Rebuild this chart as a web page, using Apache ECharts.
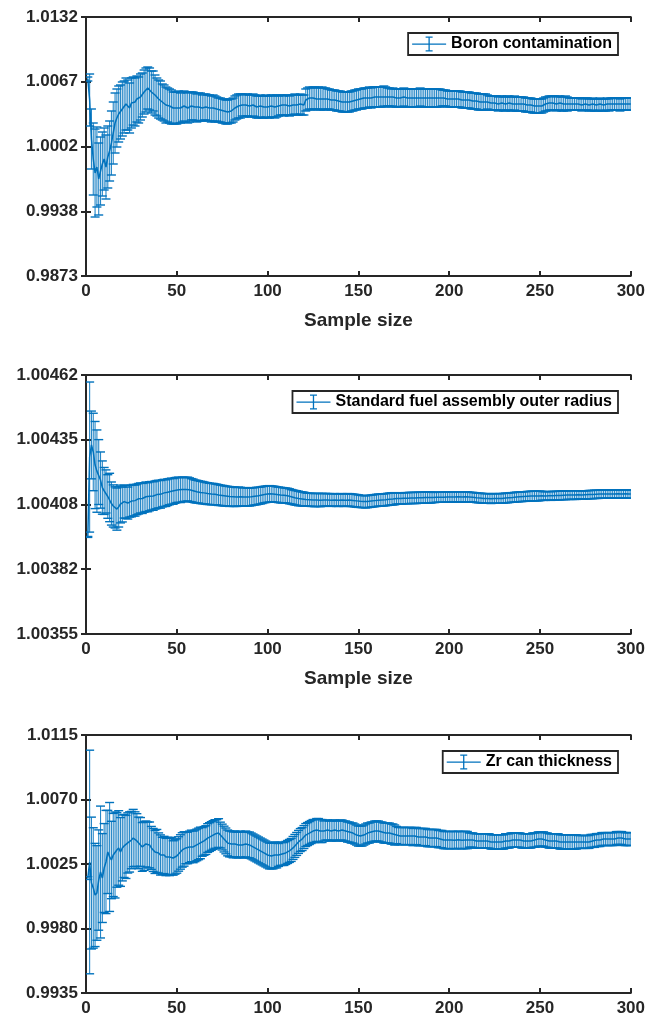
<!DOCTYPE html>
<html>
<head>
<meta charset="utf-8">
<script src="https://cdn.jsdelivr.net/npm/echarts@6/dist/echarts.min.js"></script>
<style>
html,body{margin:0;padding:0;background:#fff;}
#chart{width:648px;height:1017px;}
</style>
</head>
<body>
<div id="chart"></div>
<script>
// ---------------- DATA ----------------
const seriesNames = ['Boron contamination', 'Standard fuel assembly outer radius', 'Zr can thickness'];
const xTickLabels = ['0', '50', '100', '150', '200', '250', '300'];
const xLabel = 'Sample size';

const boronTicks = [0.9873, 0.993775, 1.00025, 1.006725, 1.0132];
const boronTickLabels = ['0.9873', '0.9938', '1.0002', '1.0067', '1.0132'];
const radiusTicks = [1.00355, 1.0038175, 1.004085, 1.0043525, 1.00462];
const radiusTickLabels = ['1.00355', '1.00382', '1.00408', '1.00435', '1.00462'];
const zrTicks = [0.9935, 0.998, 1.0025, 1.007, 1.0115];
const zrTickLabels = ['0.9935', '0.9980', '1.0025', '1.0070', '1.0115'];

const boronMean = [
1.0070,1.0049,1.0010,0.9990,0.9976,0.9982,0.9970,0.9978,0.9985,0.9990,
0.9982,0.9992,0.9998,1.0006,1.0016,1.0026,1.0031,1.0035,1.0037,1.0040,
1.0042,1.0045,1.0044,1.0041,1.0046,1.0048,1.0047,1.0050,1.0049,1.0052,
1.0054,1.0057,1.0059,1.0061,1.0060,1.0057,1.0058,1.0054,1.0052,1.0050,
1.0049,1.0047,1.0046,1.0044,1.0044,1.0043,1.0042,1.0041,1.0041,1.0041,
1.0042,1.0041,1.0042,1.0043,1.0042,1.0041,1.0042,1.0043,1.0043,1.0042,
1.0041,1.0042,1.0042,1.0041,1.0042,1.0042,1.0041,1.0041,1.0040,1.0041,
1.0040,1.0040,1.0039,1.0039,1.0038,1.0038,1.0037,1.0037,1.0038,1.0038,
1.0039,1.0041,1.0042,1.0043,1.0043,1.0044,1.0043,1.0044,1.0044,1.0043,
1.0043,1.0044,1.0043,1.0042,1.0042,1.0043,1.0042,1.0042,1.0043,1.0042,
1.0042,1.0043,1.0043,1.0042,1.0043,1.0043,1.0044,1.0044,1.0043,1.0044,
1.0044,1.0043,1.0044,1.0044,1.0045,1.0044,1.0044,1.0045,1.0044,1.0044,
1.0049,1.0050,1.0051,1.0050,1.0051,1.0051,1.0050,1.0051,1.0050,1.0051,
1.0050,1.0050,1.0050,1.0050,1.0049,1.0049,1.0049,1.0048,1.0048,1.0048,
1.0047,1.0047,1.0047,1.0047,1.0047,1.0048,1.0048,1.0049,1.0049,1.0050,
1.0050,1.0050,1.0051,1.0051,1.0051,1.0052,1.0051,1.0052,1.0052,1.0052,
1.0052,1.0052,1.0052,1.0053,1.0052,1.0052,1.0052,1.0051,1.0052,1.0051,
1.0051,1.0051,1.0051,1.0051,1.0052,1.0051,1.0051,1.0051,1.0051,1.0051,
1.0051,1.0051,1.0051,1.0052,1.0051,1.0051,1.0051,1.0051,1.0051,1.0051,
1.0051,1.0051,1.0051,1.0051,1.0051,1.0051,1.0051,1.0051,1.0050,1.0050,
1.0050,1.0050,1.0050,1.0050,1.0050,1.0050,1.0049,1.0049,1.0049,1.0049,
1.0049,1.0048,1.0048,1.0048,1.0048,1.0047,1.0047,1.0047,1.0047,1.0047,
1.0047,1.0046,1.0046,1.0046,1.0046,1.0046,1.0045,1.0046,1.0046,1.0045,
1.0045,1.0046,1.0046,1.0045,1.0045,1.0046,1.0045,1.0045,1.0045,1.0045,
1.0045,1.0044,1.0044,1.0044,1.0044,1.0043,1.0043,1.0043,1.0043,1.0043,
1.0043,1.0044,1.0045,1.0045,1.0046,1.0046,1.0046,1.0046,1.0045,1.0046,
1.0046,1.0045,1.0045,1.0046,1.0045,1.0045,1.0045,1.0045,1.0045,1.0045,
1.0045,1.0045,1.0044,1.0045,1.0045,1.0045,1.0044,1.0044,1.0045,1.0044,
1.0044,1.0044,1.0045,1.0044,1.0044,1.0044,1.0045,1.0044,1.0045,1.0045,
1.0045,1.0045,1.0045,1.0044,1.0045,1.0045,1.0045,1.0045,1.0045,1.0045
];
const boronErr = [
0.0002,0.0026,0.0030,0.0036,0.0044,0.0040,0.0036,0.0034,0.0032,0.0031,
0.0032,0.0031,0.0030,0.0032,0.0031,0.0030,0.0029,0.0028,0.0027,0.0027,
0.0026,0.0026,0.0025,0.0025,0.0025,0.0024,0.0024,0.0023,0.0023,0.0023,
0.0022,0.0022,0.0022,0.0021,0.0021,0.0021,0.0020,0.0020,0.0019,0.0019,
0.0019,0.0018,0.0018,0.0018,0.0017,0.0017,0.0017,0.0016,0.0016,0.0016,
0.0016,0.0015,0.0015,0.0015,0.0015,0.0015,0.0015,0.0014,0.0014,0.0014,
0.0014,0.0014,0.0014,0.0013,0.0013,0.0013,0.0013,0.0013,0.0013,0.0013,
0.0013,0.0012,0.0012,0.0012,0.0012,0.0012,0.0012,0.0012,0.0012,0.0012,
0.0012,0.0012,0.0012,0.0012,0.0012,0.0011,0.0011,0.0011,0.0011,0.0011,
0.0011,0.0011,0.0011,0.0011,0.0011,0.0011,0.0011,0.0011,0.0011,0.0011,
0.0011,0.0011,0.0011,0.0011,0.0011,0.0010,0.0010,0.0010,0.0010,0.0010,
0.0010,0.0010,0.0010,0.0010,0.0010,0.0010,0.0010,0.0010,0.0010,0.0010,
0.0011,0.0011,0.0011,0.0011,0.0011,0.0011,0.0011,0.0011,0.0011,0.0011,
0.0011,0.0011,0.0010,0.0010,0.0010,0.0010,0.0010,0.0010,0.0010,0.0010,
0.0010,0.0010,0.0010,0.0010,0.0010,0.0010,0.0010,0.0010,0.0010,0.0010,
0.0010,0.0010,0.0010,0.0010,0.0010,0.0010,0.0010,0.0010,0.0010,0.0010,
0.0010,0.0010,0.0010,0.0010,0.0010,0.0009,0.0009,0.0009,0.0009,0.0009,
0.0009,0.0009,0.0009,0.0009,0.0009,0.0009,0.0009,0.0009,0.0009,0.0009,
0.0009,0.0009,0.0009,0.0009,0.0009,0.0009,0.0009,0.0009,0.0009,0.0009,
0.0009,0.0009,0.0009,0.0009,0.0009,0.0008,0.0008,0.0008,0.0008,0.0008,
0.0008,0.0008,0.0008,0.0008,0.0008,0.0008,0.0008,0.0008,0.0008,0.0008,
0.0008,0.0008,0.0008,0.0008,0.0008,0.0008,0.0008,0.0008,0.0008,0.0008,
0.0007,0.0007,0.0007,0.0007,0.0007,0.0007,0.0007,0.0007,0.0007,0.0007,
0.0007,0.0007,0.0007,0.0007,0.0007,0.0007,0.0007,0.0007,0.0007,0.0007,
0.0007,0.0007,0.0007,0.0007,0.0007,0.0007,0.0007,0.0007,0.0007,0.0007,
0.0007,0.0007,0.0007,0.0007,0.0007,0.0007,0.0007,0.0007,0.0007,0.0007,
0.0007,0.0007,0.0007,0.0007,0.0007,0.0006,0.0006,0.0006,0.0006,0.0006,
0.0006,0.0006,0.0006,0.0006,0.0006,0.0006,0.0006,0.0006,0.0006,0.0006,
0.0006,0.0006,0.0006,0.0006,0.0006,0.0006,0.0006,0.0006,0.0006,0.0006,
0.0006,0.0006,0.0006,0.0006,0.0006,0.0006,0.0006,0.0006,0.0006,0.0006
];

const radiusMean = [
1.003951,1.004281,1.004331,1.004302,1.004248,1.004223,1.004219,1.004186,1.004155,1.004141,
1.004139,1.004118,1.004114,1.004089,1.004079,1.004073,1.004066,1.004075,1.004087,1.004085,
1.004097,1.004095,1.004091,1.004099,1.004099,1.004103,1.004101,1.004106,1.004109,1.004112,
1.004110,1.004114,1.004117,1.004115,1.004119,1.004121,1.004120,1.004124,1.004126,1.004128,
1.004127,1.004131,1.004133,1.004132,1.004136,1.004138,1.004140,1.004139,1.004143,1.004145,
1.004146,1.004144,1.004147,1.004148,1.004147,1.004149,1.004146,1.004144,1.004142,1.004139,
1.004138,1.004137,1.004135,1.004134,1.004133,1.004131,1.004130,1.004129,1.004128,1.004128,
1.004127,1.004126,1.004124,1.004123,1.004122,1.004121,1.004120,1.004119,1.004118,1.004118,
1.004117,1.004117,1.004116,1.004118,1.004117,1.004116,1.004116,1.004117,1.004116,1.004116,
1.004117,1.004118,1.004119,1.004120,1.004121,1.004122,1.004124,1.004126,1.004127,1.004128,
1.004129,1.004129,1.004128,1.004127,1.004126,1.004125,1.004124,1.004123,1.004123,1.004122,
1.004121,1.004119,1.004117,1.004115,1.004113,1.004112,1.004110,1.004109,1.004108,1.004107,
1.004106,1.004105,1.004105,1.004104,1.004104,1.004103,1.004104,1.004104,1.004103,1.004104,
1.004104,1.004105,1.004104,1.004104,1.004103,1.004104,1.004104,1.004103,1.004103,1.004104,
1.004104,1.004103,1.004103,1.004104,1.004104,1.004103,1.004102,1.004101,1.004100,1.004099,
1.004098,1.004097,1.004097,1.004096,1.004097,1.004098,1.004099,1.004100,1.004101,1.004102,
1.004103,1.004103,1.004104,1.004104,1.004105,1.004106,1.004107,1.004108,1.004108,1.004109,
1.004110,1.004110,1.004110,1.004110,1.004111,1.004111,1.004111,1.004112,1.004112,1.004112,
1.004112,1.004112,1.004113,1.004113,1.004113,1.004113,1.004114,1.004114,1.004114,1.004114,
1.004114,1.004114,1.004115,1.004115,1.004115,1.004115,1.004115,1.004116,1.004116,1.004116,
1.004116,1.004116,1.004116,1.004117,1.004117,1.004116,1.004116,1.004116,1.004117,1.004116,
1.004116,1.004115,1.004115,1.004114,1.004113,1.004112,1.004112,1.004111,1.004110,1.004110,
1.004110,1.004110,1.004109,1.004110,1.004110,1.004110,1.004110,1.004110,1.004110,1.004111,
1.004112,1.004112,1.004113,1.004114,1.004114,1.004115,1.004116,1.004116,1.004117,1.004117,
1.004118,1.004118,1.004119,1.004119,1.004120,1.004120,1.004120,1.004120,1.004120,1.004121,
1.004121,1.004120,1.004120,1.004121,1.004121,1.004120,1.004121,1.004121,1.004122,1.004122,
1.004122,1.004123,1.004123,1.004123,1.004124,1.004124,1.004124,1.004124,1.004124,1.004124,
1.004125,1.004125,1.004124,1.004124,1.004125,1.004125,1.004126,1.004126,1.004126,1.004127,
1.004127,1.004127,1.004128,1.004128,1.004128,1.004128,1.004128,1.004129,1.004128,1.004128,
1.004128,1.004129,1.004129,1.004128,1.004128,1.004129,1.004129,1.004128,1.004128,1.004128
];
const radiusErr = [
0.000002,0.000310,0.000140,0.000160,0.000180,0.000170,0.000134,0.000116,0.000110,0.000097,
0.000089,0.000090,0.000100,0.000089,0.000087,0.000085,0.000087,0.000083,0.000078,0.000072,
0.000068,0.000067,0.000066,0.000066,0.000065,0.000065,0.000064,0.000063,0.000063,0.000062,
0.000062,0.000061,0.000061,0.000060,0.000060,0.000059,0.000059,0.000058,0.000058,0.000057,
0.000057,0.000056,0.000056,0.000055,0.000055,0.000054,0.000054,0.000053,0.000053,0.000052,
0.000052,0.000051,0.000051,0.000050,0.000050,0.000049,0.000049,0.000048,0.000048,0.000047,
0.000047,0.000046,0.000046,0.000046,0.000045,0.000045,0.000045,0.000044,0.000044,0.000044,
0.000043,0.000043,0.000043,0.000042,0.000042,0.000042,0.000041,0.000041,0.000041,0.000040,
0.000040,0.000040,0.000039,0.000039,0.000039,0.000038,0.000038,0.000038,0.000037,0.000037,
0.000037,0.000036,0.000036,0.000036,0.000035,0.000035,0.000035,0.000034,0.000034,0.000034,
0.000034,0.000033,0.000033,0.000033,0.000032,0.000032,0.000032,0.000032,0.000031,0.000031,
0.000031,0.000031,0.000030,0.000030,0.000030,0.000030,0.000030,0.000029,0.000029,0.000029,
0.000027,0.000027,0.000027,0.000027,0.000027,0.000027,0.000027,0.000027,0.000027,0.000027,
0.000026,0.000026,0.000026,0.000026,0.000026,0.000026,0.000026,0.000026,0.000026,0.000026,
0.000026,0.000026,0.000026,0.000026,0.000026,0.000026,0.000026,0.000026,0.000026,0.000026,
0.000025,0.000025,0.000025,0.000025,0.000025,0.000025,0.000025,0.000025,0.000025,0.000025,
0.000025,0.000025,0.000025,0.000025,0.000025,0.000025,0.000025,0.000025,0.000025,0.000025,
0.000023,0.000023,0.000023,0.000023,0.000023,0.000023,0.000023,0.000023,0.000023,0.000023,
0.000023,0.000023,0.000023,0.000023,0.000023,0.000023,0.000023,0.000023,0.000023,0.000023,
0.000021,0.000021,0.000021,0.000021,0.000021,0.000021,0.000021,0.000021,0.000021,0.000021,
0.000021,0.000021,0.000021,0.000021,0.000021,0.000021,0.000021,0.000021,0.000021,0.000021,
0.000020,0.000020,0.000020,0.000020,0.000020,0.000020,0.000020,0.000020,0.000020,0.000020,
0.000020,0.000020,0.000020,0.000020,0.000020,0.000020,0.000020,0.000020,0.000020,0.000020,
0.000020,0.000020,0.000020,0.000020,0.000020,0.000020,0.000020,0.000020,0.000020,0.000020,
0.000020,0.000020,0.000020,0.000020,0.000020,0.000020,0.000020,0.000020,0.000020,0.000020,
0.000018,0.000018,0.000018,0.000018,0.000018,0.000018,0.000018,0.000018,0.000018,0.000018,
0.000018,0.000018,0.000018,0.000018,0.000018,0.000018,0.000018,0.000018,0.000018,0.000018,
0.000017,0.000017,0.000017,0.000017,0.000017,0.000017,0.000017,0.000017,0.000017,0.000017,
0.000017,0.000017,0.000017,0.000017,0.000017,0.000017,0.000017,0.000017,0.000017,0.000017,
0.000017,0.000017,0.000017,0.000017,0.000017,0.000017,0.000017,0.000017,0.000017,0.000017
];

const zrMean = [
1.00152,1.00264,1.00117,1.00083,1.00034,1.00048,1.00138,1.00194,1.00152,1.00222,
1.00264,1.00334,1.00299,1.00278,1.00313,1.00313,1.00348,1.00362,1.00334,1.00362,
1.00376,1.00369,1.00397,1.00404,1.00417,1.00431,1.00424,1.00411,1.00397,1.00404,
1.00369,1.00376,1.00390,1.00383,1.00383,1.00362,1.00348,1.00334,1.00341,1.00327,
1.00313,1.00306,1.00313,1.00299,1.00306,1.00299,1.00306,1.00292,1.00299,1.00306,
1.00320,1.00334,1.00348,1.00355,1.00362,1.00362,1.00369,1.00376,1.00369,1.00376,
1.00383,1.00390,1.00397,1.00404,1.00411,1.00417,1.00431,1.00438,1.00445,1.00452,
1.00459,1.00459,1.00466,1.00452,1.00438,1.00424,1.00411,1.00397,1.00390,1.00390,
1.00383,1.00390,1.00383,1.00383,1.00390,1.00383,1.00383,1.00390,1.00383,1.00383,
1.00376,1.00369,1.00362,1.00355,1.00348,1.00341,1.00334,1.00327,1.00320,1.00313,
1.00306,1.00306,1.00306,1.00313,1.00313,1.00313,1.00320,1.00320,1.00320,1.00327,
1.00334,1.00341,1.00348,1.00362,1.00376,1.00390,1.00404,1.00417,1.00424,1.00438,
1.00452,1.00459,1.00466,1.00473,1.00480,1.00480,1.00487,1.00487,1.00480,1.00480,
1.00480,1.00487,1.00487,1.00480,1.00480,1.00487,1.00487,1.00480,1.00480,1.00487,
1.00487,1.00480,1.00480,1.00473,1.00473,1.00466,1.00466,1.00459,1.00452,1.00445,
1.00445,1.00445,1.00452,1.00459,1.00466,1.00466,1.00473,1.00473,1.00480,1.00480,
1.00480,1.00473,1.00473,1.00466,1.00466,1.00466,1.00466,1.00459,1.00459,1.00452,
1.00452,1.00445,1.00445,1.00445,1.00445,1.00445,1.00445,1.00445,1.00445,1.00438,
1.00445,1.00445,1.00438,1.00438,1.00438,1.00438,1.00438,1.00431,1.00431,1.00431,
1.00431,1.00431,1.00431,1.00424,1.00424,1.00424,1.00417,1.00417,1.00417,1.00417,
1.00417,1.00418,1.00416,1.00417,1.00419,1.00417,1.00416,1.00417,1.00418,1.00417,
1.00417,1.00417,1.00417,1.00411,1.00411,1.00411,1.00411,1.00411,1.00411,1.00411,
1.00411,1.00411,1.00404,1.00404,1.00404,1.00404,1.00404,1.00404,1.00404,1.00404,
1.00411,1.00411,1.00411,1.00417,1.00417,1.00417,1.00417,1.00417,1.00417,1.00411,
1.00411,1.00411,1.00411,1.00411,1.00411,1.00417,1.00417,1.00417,1.00424,1.00424,
1.00424,1.00424,1.00417,1.00417,1.00411,1.00411,1.00411,1.00411,1.00411,1.00411,
1.00404,1.00404,1.00404,1.00404,1.00404,1.00404,1.00404,1.00404,1.00404,1.00404,
1.00404,1.00404,1.00404,1.00404,1.00404,1.00404,1.00404,1.00411,1.00411,1.00411,
1.00417,1.00417,1.00417,1.00424,1.00424,1.00424,1.00424,1.00424,1.00424,1.00424,
1.00424,1.00431,1.00431,1.00431,1.00431,1.00424,1.00424,1.00424,1.00424,1.00424
];
const zrErr = [
0.0001,0.0078,0.0046,0.0042,0.0036,0.0033,0.0035,0.0046,0.0031,0.0031,
0.0036,0.0029,0.0038,0.0027,0.0029,0.0030,0.0026,0.0026,0.0024,0.0023,
0.0022,0.0022,0.0021,0.0021,0.0020,0.0020,0.0019,0.0019,0.0018,0.0017,
0.0017,0.0017,0.0016,0.0016,0.0016,0.0015,0.0015,0.0015,0.0015,0.0014,
0.0014,0.0013,0.0013,0.0013,0.0013,0.0013,0.0013,0.0012,0.0012,0.0012,
0.0012,0.0012,0.0012,0.0012,0.0011,0.0011,0.0011,0.0011,0.0011,0.0011,
0.0011,0.0011,0.0011,0.0010,0.0010,0.0010,0.0010,0.0010,0.0010,0.0010,
0.0010,0.0010,0.0010,0.0009,0.0009,0.0009,0.0009,0.0009,0.0009,0.0009,
0.0009,0.0009,0.0009,0.0009,0.0009,0.0009,0.0009,0.0009,0.0009,0.0009,
0.0009,0.0009,0.0009,0.0009,0.0009,0.0009,0.0009,0.0009,0.0009,0.0009,
0.0009,0.0009,0.0009,0.0009,0.0009,0.0008,0.0008,0.0008,0.0008,0.0008,
0.0008,0.0008,0.0008,0.0008,0.0008,0.0008,0.0008,0.0008,0.0008,0.0008,
0.0008,0.0008,0.0008,0.0008,0.0008,0.0008,0.0008,0.0008,0.0008,0.0008,
0.0007,0.0007,0.0007,0.0007,0.0007,0.0007,0.0007,0.0007,0.0007,0.0007,
0.0007,0.0007,0.0007,0.0007,0.0007,0.0007,0.0007,0.0007,0.0007,0.0007,
0.0007,0.0007,0.0007,0.0007,0.0007,0.0007,0.0007,0.0007,0.0007,0.0007,
0.0007,0.0007,0.0007,0.0007,0.0007,0.0007,0.0007,0.0007,0.0007,0.0007,
0.0006,0.0006,0.0006,0.0006,0.0006,0.0006,0.0006,0.0006,0.0006,0.0006,
0.0006,0.0006,0.0006,0.0006,0.0006,0.0006,0.0006,0.0006,0.0006,0.0006,
0.0006,0.0006,0.0006,0.0006,0.0006,0.0006,0.0006,0.0006,0.0006,0.0006,
0.0006,0.0006,0.0006,0.0006,0.0006,0.0006,0.0006,0.0006,0.0006,0.0006,
0.0005,0.0005,0.0005,0.0005,0.0005,0.0005,0.0005,0.0005,0.0005,0.0005,
0.0005,0.0005,0.0005,0.0005,0.0005,0.0005,0.0005,0.0005,0.0005,0.0005,
0.0005,0.0005,0.0005,0.0005,0.0005,0.0005,0.0005,0.0005,0.0005,0.0005,
0.0005,0.0005,0.0005,0.0005,0.0005,0.0005,0.0005,0.0005,0.0005,0.0005,
0.0005,0.0005,0.0005,0.0005,0.0005,0.0005,0.0005,0.0005,0.0005,0.0005,
0.0005,0.0005,0.0005,0.0005,0.0005,0.0005,0.0005,0.0005,0.0005,0.0005,
0.00045,0.00045,0.00045,0.00045,0.00045,0.00045,0.00045,0.00045,0.00045,0.00045,
0.00045,0.00045,0.00045,0.00045,0.00045,0.00045,0.00045,0.00045,0.00045,0.00045,
0.00045,0.00045,0.00045,0.00045,0.00045,0.00045,0.00045,0.00045,0.00045,0.00045
];

// sample sizes 1..300 (x positions are the sample index)
const sampleSize = boronMean.map((_, i) => i + 1);

// ---------------- CHART ----------------
const FONT = 'Liberation Sans, Arial, Helvetica, sans-serif';
const AXIS_COLOR = '#262626';
const LINE_COLOR = '#0072BD';

const panels = [
  { name: seriesNames[0], mean: boronMean, err: boronErr, ticks: boronTicks, labels: boronTickLabels, top: 17, height: 259, xname: true },
  { name: seriesNames[1], mean: radiusMean, err: radiusErr, ticks: radiusTicks, labels: radiusTickLabels, top: 375, height: 259, xname: true },
  { name: seriesNames[2], mean: zrMean, err: zrErr, ticks: zrTicks, labels: zrTickLabels, top: 735, height: 258, xname: false }
];

const grids = [], xAxes = [], yAxes = [], series = [], legends = [];
const legendIcon = 'path://M0,7h34v1.3h-34z M16.35,0h1.3v15h-1.3z M13.5,0h7v1.3h-7z M13.5,13.7h7v1.3h-7z';

function labelFor(ticks, labels) {
  return function (v) {
    let best = 0, bd = Infinity;
    ticks.forEach((t, i) => { const d = Math.abs(t - v); if (d < bd) { bd = d; best = i; } });
    return labels[best];
  };
}

function renderErr(params, api) {
  const x = api.value(0), lo = api.value(1), hi = api.value(2);
  const a = api.coord([x, hi]), b = api.coord([x, lo]);
  const hw = 4.5;
  const bar = { stroke: LINE_COLOR, lineWidth: 1.1, fill: null, opacity: 0.85 };
  const cap = { stroke: LINE_COLOR, lineWidth: 1.4, fill: null };
  return {
    type: 'group',
    children: [
      { type: 'line', shape: { x1: a[0], y1: a[1], x2: b[0], y2: b[1] }, style: bar },
      { type: 'line', shape: { x1: a[0] - hw, y1: a[1], x2: a[0] + hw, y2: a[1] }, style: cap },
      { type: 'line', shape: { x1: b[0] - hw, y1: b[1], x2: b[0] + hw, y2: b[1] }, style: cap }
    ]
  };
}

panels.forEach((p, i) => {
  grids.push({ left: 86, width: 547, top: p.top, height: p.height, containLabel: false });
  const axisLine = { show: true, lineStyle: { color: AXIS_COLOR, width: 2 } };
  const tick = { show: true, inside: true, length: 5, lineStyle: { color: AXIS_COLOR, width: 2 } };
  xAxes.push({
    type: 'value', gridIndex: i, position: 'bottom', min: 0, max: 300, interval: 50,
    axisLine, axisTick: tick, splitLine: { show: false },
    axisLabel: { fontFamily: FONT, fontWeight: 'bold', fontSize: 17, color: AXIS_COLOR, margin: 7,
      formatter: v => xTickLabels[Math.round(v / 50)] },
    name: p.xname ? xLabel : '', nameLocation: 'middle', nameGap: 35,
    nameTextStyle: { fontFamily: FONT, fontWeight: 'bold', fontSize: 19, color: AXIS_COLOR }
  });
  xAxes.push({
    type: 'value', gridIndex: i, position: 'top', min: 0, max: 300, interval: 50,
    axisLine, axisTick: tick, splitLine: { show: false }, axisLabel: { show: false }
  });
  const ymin = p.ticks[0], ymax = p.ticks[p.ticks.length - 1];
  yAxes.push({
    type: 'value', gridIndex: i, position: 'left', min: ymin, max: ymax,
    axisLine, splitLine: { show: false },
    axisTick: Object.assign({ customValues: p.ticks }, tick),
    axisLabel: { customValues: p.ticks, fontFamily: FONT, fontWeight: 'bold', fontSize: 17, color: AXIS_COLOR, margin: 8,
      formatter: labelFor(p.ticks, p.labels) }
  });
  yAxes.push({
    type: 'value', gridIndex: i, position: 'right', min: ymin, max: ymax,
    axisLine, splitLine: { show: false },
    axisTick: Object.assign({ customValues: p.ticks }, tick),
    axisLabel: { show: false }
  });
  series.push({
    name: p.name, type: 'custom', xAxisIndex: 2 * i, yAxisIndex: 2 * i,
    renderItem: renderErr, clip: true,
    encode: { x: 0, y: [1, 2] },
    itemStyle: { color: LINE_COLOR },
    data: sampleSize.map((n, k) => [n, p.mean[k] - p.err[k], p.mean[k] + p.err[k]]),
    z: 2
  });
  series.push({
    name: p.name, type: 'line', xAxisIndex: 2 * i, yAxisIndex: 2 * i,
    showSymbol: false, symbol: 'none', clip: true,
    lineStyle: { color: LINE_COLOR, width: 1.5 },
    itemStyle: { color: LINE_COLOR },
    data: sampleSize.map((n, k) => [n, p.mean[k]]),
    z: 3
  });
  legends.push({
    data: [{ name: p.name, icon: legendIcon }],
    right: 30, top: p.top + 16,
    orient: 'horizontal',
    backgroundColor: '#fff', borderColor: AXIS_COLOR, borderWidth: 1.8,
    padding: [3, 6, 3, 4], itemWidth: 34, itemHeight: 15, itemGap: 4,
    selectedMode: false,
    itemStyle: { color: LINE_COLOR },
    textStyle: { fontFamily: FONT, fontWeight: 'bold', fontSize: 16, color: '#000' }
  });
});

const chart = echarts.init(document.getElementById('chart'), null, { renderer: 'canvas' });
chart.setOption({
  animation: false,
  backgroundColor: '#ffffff',
  grid: grids, xAxis: xAxes, yAxis: yAxes, series: series, legend: legends
});
</script>
</body>
</html>
